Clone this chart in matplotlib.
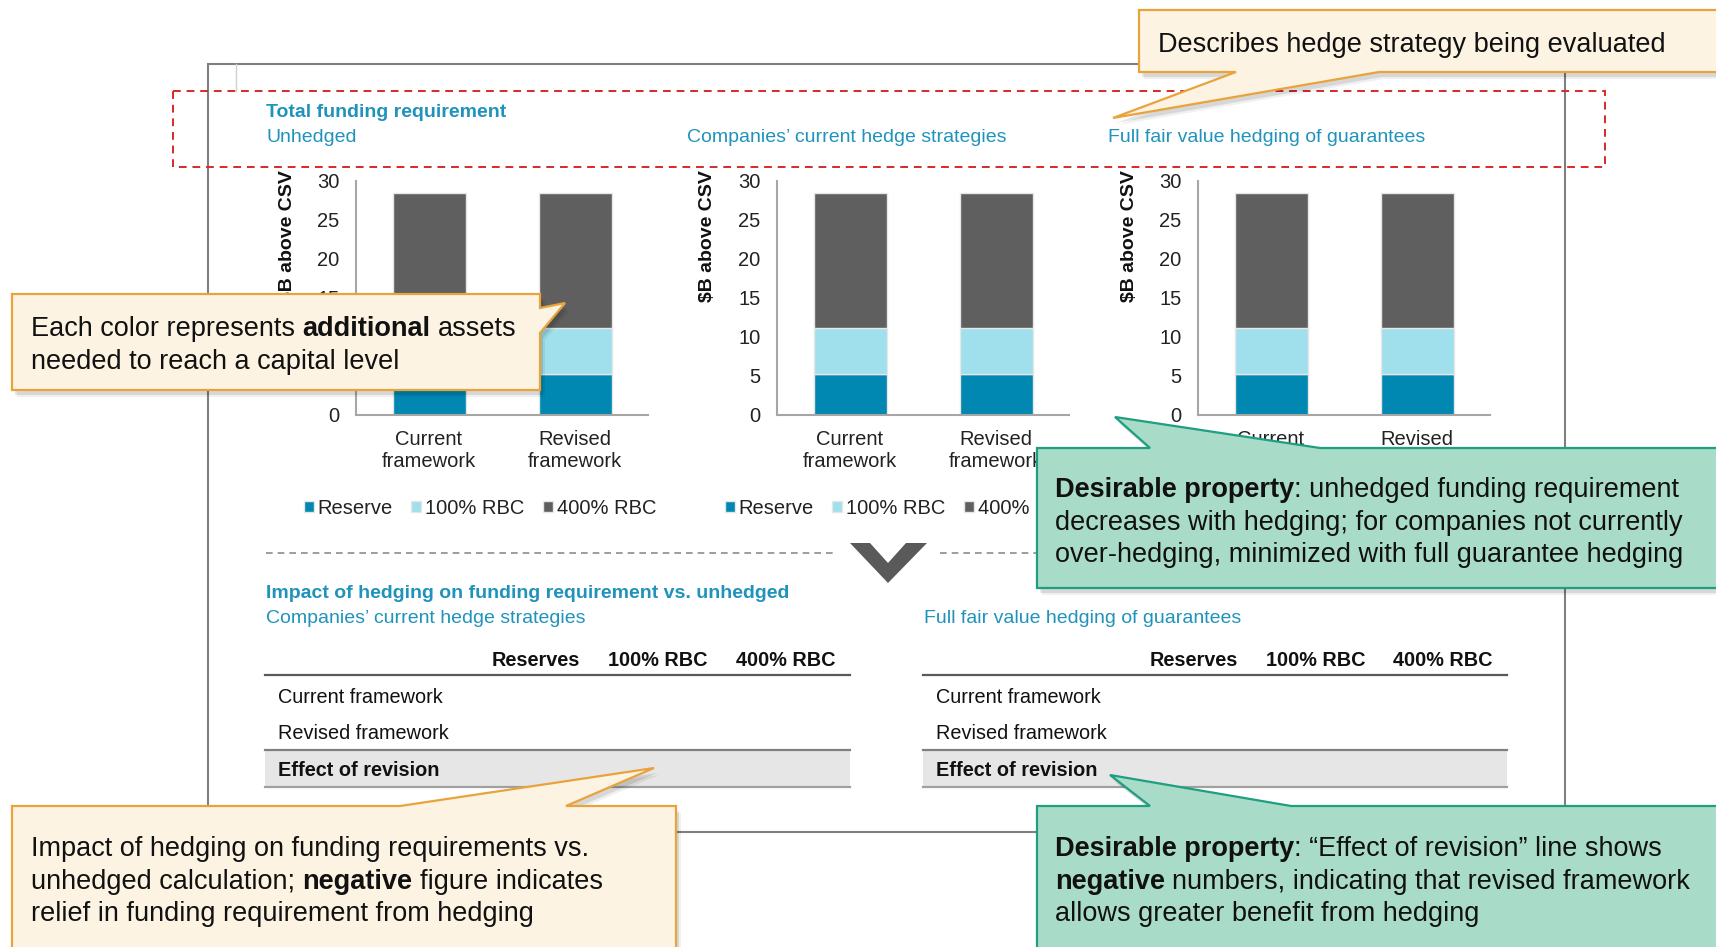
import matplotlib
matplotlib.use("Agg")
import matplotlib.pyplot as plt
import numpy as np
from matplotlib.patches import Polygon, Rectangle
from matplotlib.lines import Line2D

plt.rcParams["font.family"] = ["Liberation Sans", "DejaVu Sans"]

# ---- data -------------------------------------------------------------
categories = ["Current\nframework", "Revised\nframework"]
panel_titles = ["Unhedged", "Companies\u2019 current hedge strategies",
                "Full fair value hedging of guarantees"]
reserve = [[5.2, 5.2], [5.2, 5.2], [5.2, 5.2]]
rbc_100 = [[5.9, 5.9], [5.9, 5.9], [5.9, 5.9]]
rbc_400 = [[17.3, 17.3], [17.3, 17.3], [17.3, 17.3]]
series_names = ["Reserve", "100% RBC", "400% RBC"]
yticks = [0, 5, 10, 15, 20, 25, 30]
table_titles = ["Companies\u2019 current hedge strategies",
                "Full fair value hedging of guarantees"]
table_cols = ["Reserves", "100% RBC", "400% RBC"]
table_rows = ["Current framework", "Revised framework", "Effect of revision"]

# ---- style -------------------------------------------------------------
W, H = 1716, 947
TEAL = "#1f93bb"
COLORS = ["#0088b2", "#9fe0ec", "#5f5f5f"]
BEIGE, ORANGE = "#fdf3e3", "#e8a33d"
GREEN, GREEN_EDGE = "#a8dcc9", "#1f9e80"
TXT = "#111111"
VA = "center_baseline"

fig = plt.figure(figsize=(W / 100, H / 100), dpi=100)
fig.patch.set_facecolor("white")


def px_axes(left, top, right, bottom):
    return fig.add_axes([left / W, 1 - bottom / H, (right - left) / W, (bottom - top) / H])


# ---- bar charts ----------------------------------------------------------
chart_lefts = [356, 777, 1198]
for i, left in enumerate(chart_lefts):
    ax = px_axes(left, 180.6, left + 292, 414.8)
    x = np.arange(len(categories))
    b1 = ax.bar(x, reserve[i], width=0.5, color=COLORS[0], edgecolor="#e6e6e6", linewidth=1)
    b2 = ax.bar(x, rbc_100[i], width=0.5, bottom=reserve[i], color=COLORS[1],
                edgecolor="#e6e6e6", linewidth=1)
    b3 = ax.bar(x, rbc_400[i], width=0.5, bottom=np.add(reserve[i], rbc_100[i]),
                color=COLORS[2], edgecolor="#e6e6e6", linewidth=1)
    ax.set_xlim(-0.5, 1.5)
    ax.set_ylim(0, 30)
    ax.set_yticks(yticks)
    ax.set_xticks(x, categories)
    ax.tick_params(length=0, labelsize=14.5, colors="#222222")
    ax.tick_params(axis="y", pad=12)
    ax.tick_params(axis="x", pad=11)
    for s in ["top", "right"]:
        ax.spines[s].set_visible(False)
    for s in ["left", "bottom"]:
        ax.spines[s].set_color("#a6a6a6")
        ax.spines[s].set_linewidth(1.5)
    ax.patch.set_alpha(0)
    ax.legend([b1, b2, b3], series_names, ncol=3, loc="center",
              bbox_to_anchor=(0.425, -0.398), frameon=False, fontsize=14.5,
              handlelength=0.5, handleheight=0.5, handletextpad=0.2,
              columnspacing=0.9, labelcolor="#222222")

# ---- overlay for shapes and text --------------------------------------
ov = fig.add_axes([0, 0, 1, 1])
ov.set_xlim(0, W)
ov.set_ylim(H, 0)
ov.axis("off")
ov.patch.set_alpha(0)
ov.set_zorder(10)
renderer = fig.canvas.get_renderer()

# slide frame
ov.add_patch(Rectangle((208, 63.5), 1565 - 208, 832 - 63.5, fill=False,
                       edgecolor="#7f7f7f", linewidth=1.5, zorder=1))
ov.add_line(Line2D([236, 236], [64, 91], color="#d0d0d0", linewidth=1, zorder=1))
ov.add_patch(Rectangle((173, 91), 1605 - 173, 167 - 91, fill=False,
                       edgecolor="#d42a2a", linewidth=1.4, linestyle=(0, (4, 3)), zorder=2))

ov.text(266, 110.5, "Total funding requirement", color=TEAL, fontsize=14,
        fontweight="bold", va=VA)
for left, title in zip(chart_lefts, panel_titles):
    ov.text(left - 90, 135.7, title, color=TEAL, fontsize=14, va=VA)
    ov.text(left - 69, 236, "$B above CSV", rotation=90, fontsize=14,
            fontweight="bold", ha="center", va="center", color=TXT)

# separator and chevron
ov.add_line(Line2D([266, 833], [553, 553], color="#8c8c8c", linewidth=1.2,
                   linestyle=(0, (4, 3)), zorder=1))
ov.add_line(Line2D([940, 1100], [553, 553], color="#8c8c8c", linewidth=1.2,
                   linestyle=(0, (4, 3)), zorder=1))
ov.add_patch(Polygon([(850, 543), (870, 543), (888, 563), (906, 543), (927, 543), (888, 583)],
                     closed=True, facecolor="#5a5a5a", edgecolor="none", zorder=2))

ov.text(266, 591, "Impact of hedging on funding requirement vs. unhedged", color=TEAL,
        fontsize=14, fontweight="bold", va=VA)

# tables
for j, (tl, title) in enumerate(zip([265, 922.6], table_titles)):
    tr = tl + 584.5
    ov.text(tl + 1, 616, title, color=TEAL, fontsize=14, va=VA)
    col_right = [tl + 315, tl + 443, tl + 570]
    for cx, col in zip(col_right, table_cols):
        ov.text(cx, 658, col, fontsize=14.3, fontweight="bold", ha="right", va=VA, color=TXT)
    ov.add_line(Line2D([tl, tr], [675, 675], color="#595959", linewidth=1.6, zorder=2))
    ov.add_patch(Rectangle((tl, 750), tr - tl, 37, facecolor="#e6e6e6", edgecolor="none", zorder=1))
    ov.add_line(Line2D([tl, tr], [750, 750], color="#808080", linewidth=1.6, zorder=2))
    ov.add_line(Line2D([tl, tr], [787, 787], color="#a0a0a0", linewidth=1.6, zorder=2))
    for ry, row in zip([695, 731, 768], table_rows):
        ov.text(tl + 13, ry, row, fontsize=14.3, va=VA, color=TXT,
                fontweight="bold" if row == "Effect of revision" else "normal")


# ---- callouts --------------------------------------------------------------
def callout(pts, face, edge):
    for dx, dy, a in [(5, 7, 0.06), (3, 5, 0.1)]:
        shadow = [(px + dx, py + dy) for px, py in pts]
        ov.add_patch(Polygon(shadow, closed=True, facecolor="black", alpha=a,
                             edgecolor="none", zorder=14))
    ov.add_patch(Polygon(pts, closed=True, facecolor=face, edgecolor=edge,
                         linewidth=1.6, zorder=15))


space_w = None


def rich_line(x, y, parts, size=19.5):
    global space_w
    if space_w is None:
        a = ov.text(0, 0, "a a", fontsize=size)
        b = ov.text(0, 0, "aa", fontsize=size)
        space_w = (a.get_window_extent(renderer).width - b.get_window_extent(renderer).width)
        a.remove()
        b.remove()
    for text, weight in parts:
        lead = len(text) - len(text.lstrip(" "))
        trail = len(text) - len(text.rstrip(" "))
        x += lead * space_w
        t = ov.text(x, y, text.strip(" "), fontsize=size, fontweight=weight,
                    va=VA, ha="left", color=TXT, zorder=20)
        x += t.get_window_extent(renderer).width + trail * space_w


callout([(1139, 10), (1730, 10), (1730, 72), (1379, 72), (1113, 118), (1236, 72), (1139, 72)],
        BEIGE, ORANGE)
rich_line(1158, 41.6, [("Describes hedge strategy being evaluated", "normal")])

callout([(12, 294), (540, 294), (540, 308), (565, 303), (540, 333), (540, 390), (12, 390)],
        BEIGE, ORANGE)
rich_line(30.6, 326, [("Each color represents ", "normal"), ("additional", "bold"),
                      (" assets", "normal")])
rich_line(30.6, 359, [("needed to reach a capital level", "normal")])

callout([(1037, 448), (1150, 448), (1115, 417), (1320, 448), (1730, 448), (1730, 588), (1037, 588)],
        GREEN, GREEN_EDGE)
rich_line(1055, 487, [("Desirable property", "bold"), (": unhedged funding requirement", "normal")])
rich_line(1055, 520, [("decreases with hedging; for companies not currently", "normal")])
rich_line(1055, 551.6, [("over-hedging, minimized with full guarantee hedging", "normal")])

callout([(12, 806), (400, 806), (654, 768), (566, 806), (676, 806), (676, 960), (12, 960)],
        BEIGE, ORANGE)
rich_line(30.6, 846, [("Impact of hedging on funding requirements vs.", "normal")])
rich_line(30.6, 879, [("unhedged calculation; ", "normal"), ("negative", "bold"),
                      (" figure indicates", "normal")])
rich_line(30.6, 910.5, [("relief in funding requirement from hedging", "normal")])

callout([(1037, 806), (1150, 806), (1110, 775), (1291, 806), (1730, 806), (1730, 960), (1037, 960)],
        GREEN, GREEN_EDGE)
rich_line(1055, 846, [("Desirable property", "bold"),
                      (": \u201cEffect of revision\u201d line shows", "normal")])
rich_line(1055, 879, [("negative", "bold"), (" numbers, indicating that revised framework", "normal")])
rich_line(1055, 910.5, [("allows greater benefit from hedging", "normal")])

fig.savefig("out.png", dpi=100, facecolor="white")
